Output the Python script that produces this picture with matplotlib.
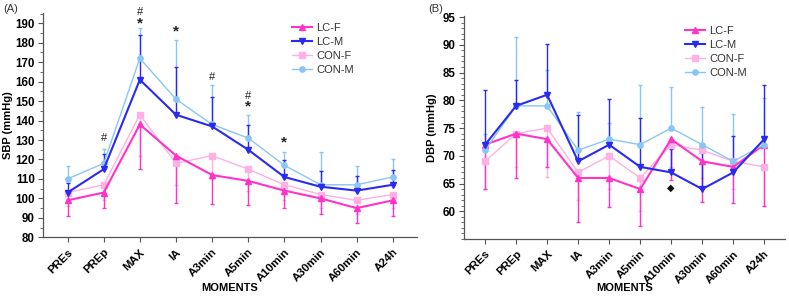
import matplotlib
matplotlib.use("Agg")
import matplotlib.pyplot as plt
from matplotlib.ticker import MultipleLocator
import numpy as np

plt.rcParams['font.family'] = ['Liberation Sans', 'DejaVu Sans']

moments = ["PREs", "PREp", "MAX", "IA", "A3min", "A5min", "A10min", "A30min", "A60min", "A24h"]
groups = ["LC-F", "LC-M", "CON-F", "CON-M"]

# Panel A: SBP means and error bar ends
sbp_lcf = [99, 103, 138, 122, 112, 109, 104, 100, 95, 99]
sbp_lcf_low = [91, 95, 115, 97.5, 97, 96.5, 95.3, 92, 87.2, 91]
sbp_lcm = [103, 115, 161, 143, 137, 125, 111, 106, 104, 107]
sbp_lcm_high = [108, 123, 184, 167.6, 152.3, 137.5, 119.7, 114, 111.3, 114.6]
sbp_conf = [103, 107, 143, 118, 122, 115, 107, 102, 99, 102]
sbp_conf_low = [96, 99, 122, 107, 110, 104, 99, 95, 92, 95]
sbp_conm = [110, 118, 172, 151, 138, 131, 117, 107, 107, 111]
sbp_conm_high = [116.5, 125.4, 187.7, 181.4, 158.5, 143.1, 124, 124, 116.4, 120]

# Panel B: DBP means and error bar ends
dbp_lcf = [72, 74, 73, 66, 66, 64, 73, 69, 68, 72]
dbp_lcf_low = [64, 66, 68, 58, 60.8, 57.4, 65.7, 61.7, 61.4, 61]
dbp_lcm = [72, 79, 81, 69, 72, 68, 67, 64, 67, 73]
dbp_lcm_high = [81.8, 83.6, 90.2, 77.4, 80.3, 76.8, 71.2, 70.5, 73.6, 82.8]
dbp_conf = [69, 74, 75, 67, 70, 66, 72, 71, 69, 68]
dbp_conf_low = [64.1, 68, 66.1, 62, 64, 60, 68, 66, 64, 61]
dbp_conm = [71, 79, 79, 71, 73, 72, 75, 72, 69, 72]
dbp_conm_high = [74, 91.4, 85.5, 77.9, 76, 82.7, 82.4, 78.8, 77.6, 80.5]

# significance marks (panel A)
mark_idx = [1, 2, 2, 3, 4, 5, 5, 6]
mark_sym = ["#", "#", "*", "*", "#", "#", "*", "*"]
mark_y = [131, 196, 190, 186, 162.5, 152.5, 147, 128.5]
# panel B diamond
diamond_idx = [6]
diamond_y = [64.3]

colors = {"LC-F": "#ff33c8", "LC-M": "#2a2af0", "CON-F": "#ffb0e4", "CON-M": "#88c6f5"}
markers = {"LC-F": "^", "LC-M": "v", "CON-F": "s", "CON-M": "o"}
lws = {"LC-F": 1.5, "LC-M": 1.5, "CON-F": 1.0, "CON-M": 1.0}

fig = plt.figure(figsize=(7.89, 2.96), dpi=100)
axA = fig.add_axes([43/789, (296-237.3)/296, (417-43)/789, (237.3-13)/296])
axB = fig.add_axes([464/789, (296-239)/296, (785-464)/789, (239-16)/296])

x = np.arange(len(moments))

def draw(ax, data):
    for g in ["CON-F", "LC-F", "CON-M", "LC-M"]:
        vals, ends, direction = data[g]
        vals = np.array(vals, float)
        ends = np.array(ends, float)
        c = colors[g]
        if direction < 0:
            yerr = [vals - ends, np.zeros_like(vals)]
        else:
            yerr = [np.zeros_like(vals), ends - vals]
        ax.errorbar(x, vals, yerr=yerr, fmt='none', ecolor=c, elinewidth=1.0,
                    capsize=1.5, capthick=1.0, zorder=2)
        ax.plot(x, vals, color=c, lw=lws[g], marker=markers[g], ms=3.8,
                mec=c, mfc=c, label=g, zorder=3)
    ax.set_xlim(-0.68, 9.67)
    ax.set_xticks(x)
    ax.set_xticklabels(moments, rotation=45, ha='right', rotation_mode='anchor',
                       fontsize=8.2, fontweight='bold')
    for s in ["top", "right"]:
        ax.spines[s].set_visible(False)
    for s in ["left", "bottom"]:
        ax.spines[s].set_color("#555555")
        ax.spines[s].set_linewidth(0.9)
    ax.tick_params(axis='both', which='major', length=3.5, color="#555555", width=0.8)
    ax.tick_params(axis='y', which='minor', length=2, color="#555555", width=0.6)
    ax.tick_params(axis='y', labelsize=8.3, pad=2.5)
    for t in ax.get_yticklabels():
        t.set_fontweight('bold')
    ax.set_xlabel("MOMENTS", fontsize=8, fontweight='bold', va='center')

dataA = {"LC-F": (sbp_lcf, sbp_lcf_low, -1), "LC-M": (sbp_lcm, sbp_lcm_high, 1),
         "CON-F": (sbp_conf, sbp_conf_low, -1), "CON-M": (sbp_conm, sbp_conm_high, 1)}
dataB = {"LC-F": (dbp_lcf, dbp_lcf_low, -1), "LC-M": (dbp_lcm, dbp_lcm_high, 1),
         "CON-F": (dbp_conf, dbp_conf_low, -1), "CON-M": (dbp_conm, dbp_conm_high, 1)}

axA.set_ylim(80, 195.3)
axA.set_yticks(np.arange(80, 191, 10))
axA.yaxis.set_minor_locator(MultipleLocator(5))
draw(axA, dataA)
axA.set_ylabel("SBP (mmHg)", fontsize=8, fontweight='bold', va='center')
axA.yaxis.set_label_coords((8 - 43) / 374, 0.5)
axA.xaxis.set_label_coords(0.5, (237.3 - 288) / 224.3)

axB.set_ylim(55, 95.2)
axB.set_yticks(np.arange(60, 96, 5))
axB.yaxis.set_minor_locator(MultipleLocator(1))
draw(axB, dataB)
axB.set_ylabel("DBP (mmHg)", fontsize=8, fontweight='bold', va='center')
axB.yaxis.set_label_coords((432 - 464) / 321, 0.5)
axB.xaxis.set_label_coords(0.5, (239 - 288) / 223)

for i, s, yv in zip(mark_idx, mark_sym, mark_y):
    if s == "*":
        axA.text(i, yv, "*", ha='center', va='center', fontsize=11, fontweight='bold',
                 color='#222222', clip_on=False)
    else:
        axA.text(i, yv, "#", ha='center', va='center', fontsize=8, color='#222222',
                 clip_on=False)

for i, yv in zip(diamond_idx, diamond_y):
    axB.text(i, yv, "\u25c6", ha='center', va='center', fontsize=7, color='#111111',
             family=['DejaVu Sans'])

for ax, loc in [(axA, (0.648, 0.985)), (axB, (0.668, 0.985))]:
    h, l = ax.get_legend_handles_labels()
    order = [l.index(g) for g in groups]
    leg = ax.legend([h[k] for k in order], [l[k] for k in order], loc='upper left',
                    bbox_to_anchor=loc, frameon=False, fontsize=8, handlelength=1.8,
                    handletextpad=0.4, labelspacing=0.35, borderaxespad=0.2)
    for t in leg.get_texts():
        t.set_color('#333333')

fig.text(3/789, 1 - 9/296, "(A)", fontsize=8, va='center', ha='left', color='#333333')
fig.text(428/789, 1 - 9/296, "(B)", fontsize=8, va='center', ha='left', color='#333333')

fig.savefig("out.png", dpi=100)
